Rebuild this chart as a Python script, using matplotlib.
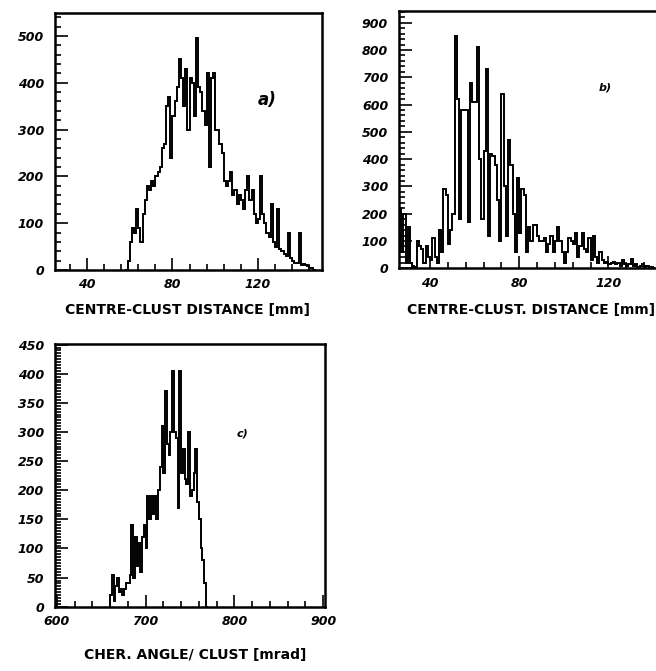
import numpy as np
import matplotlib
matplotlib.use("Agg")
import matplotlib.pyplot as plt
from matplotlib.ticker import MultipleLocator

# a) centre-cluster distance, 1 mm bins starting at 58 mm
a_start, a_width = 58, 1
a_counts = [0, 20, 60, 90, 80, 130, 90, 60, 120, 150,
            180, 170, 190, 180, 200, 210, 220, 260, 270, 350,
            370, 240, 330, 360, 390, 450, 410, 350, 430, 300,
            410, 400, 330, 495, 390, 380, 340, 310, 420, 220,
            410, 420, 300, 300, 270, 250, 190, 180, 190, 210,
            160, 170, 140, 160, 150, 130, 170, 200, 150, 170,
            120, 100, 110, 200, 120, 100, 80, 70, 140, 60,
            50, 130, 45, 40, 35, 30, 80, 25, 20, 15,
            15, 80, 10, 12, 10, 8, 5, 5, 0]

# b) centre-cluster distance, 1 mm bins starting at 26 mm
b_start, b_width = 26, 1
b_counts = [220, 60, 200, 20, 150, 20, 10, 5, 100, 80,
            70, 20, 80, 40, 30, 110, 40, 20, 140, 60,
            290, 270, 90, 140, 200, 850, 620, 180, 580, 580,
            580, 170, 680, 610, 610, 810, 400, 180, 430, 730,
            120, 420, 410, 380, 250, 100, 640, 300, 120, 470,
            380, 200, 60, 330, 130, 290, 270, 60, 150, 100,
            160, 160, 120, 100, 100, 110, 60, 90, 120, 60,
            100, 150, 100, 60, 20, 60, 110, 100, 90, 130,
            40, 80, 130, 70, 60, 110, 30, 120, 40, 20,
            60, 30, 20, 25, 15, 20, 25, 15, 20, 10,
            30, 15, 10, 15, 35, 10, 15, 5, 10, 15,
            5, 10, 5, 5, 0]

# c) Cherenkov angle per cluster, 2 mrad bins starting at 660 mrad
c_start, c_width = 660, 2
c_counts = [20, 55, 10, 35, 50, 25, 30, 20, 30, 40,
            40, 55, 140, 50, 120, 70, 110, 60, 120, 140,
            100, 190, 150, 190, 160, 190, 150, 200, 240, 310,
            230, 370, 280, 260, 300, 405, 300, 290, 170, 405,
            230, 270, 220, 210, 300, 190, 200, 230, 270, 180,
            150, 100, 80, 40, 0]

a_xlabel = "CENTRE-CLUST DISTANCE [mm]"
b_xlabel = "CENTRE-CLUST. DISTANCE [mm]"
c_xlabel = "CHER. ANGLE/ CLUST [mrad]"

# heavy slanted numbers on all the axes
plt.rcParams["font.family"] = "DejaVu Sans"
plt.rcParams["font.weight"] = "bold"
plt.rcParams["font.style"] = "italic"
plt.rcParams["xtick.labelsize"] = 9
plt.rcParams["ytick.labelsize"] = 9


def draw_hist(ax, start, width, counts, xlim, ylim, xticks, xmin, ymaj, ymin):
    counts = np.asarray(counts, dtype=float)
    edges = start + width * np.arange(len(counts) + 1)
    ax.stairs(counts, edges, color="black", linewidth=1.4)
    ax.set_xlim(*xlim)
    ax.set_ylim(*ylim)
    ax.set_xticks(xticks)
    ax.xaxis.set_minor_locator(MultipleLocator(xmin))
    ax.yaxis.set_major_locator(MultipleLocator(ymaj))
    ax.yaxis.set_minor_locator(MultipleLocator(ymin))
    ax.tick_params(which="both", direction="in", width=1.2, top=False, right=False)
    ax.tick_params(which="major", length=9, pad=6)
    ax.tick_params(axis="y", which="major", pad=8)
    ax.tick_params(which="minor", length=4)
    for sp in ax.spines.values():
        sp.set_linewidth(1.8)


fig = plt.figure(figsize=(6.56, 6.71), dpi=100)

ax_a = fig.add_axes([0.0838, 0.5976, 0.4071, 0.3830])
draw_hist(ax_a, a_start, a_width, a_counts, (25, 150), (0, 549), [40, 80, 120], 8, 100, 20)

ax_b = fig.add_axes([0.6087, 0.6001, 0.3976, 0.3840])
draw_hist(ax_b, b_start, b_width, b_counts, (26.2, 143.2), (0, 944), [40, 80, 120], 8, 100, 20)

ax_c = fig.add_axes([0.0838, 0.0958, 0.4116, 0.3915])
draw_hist(ax_c, c_start, c_width, c_counts, (598, 902), (0, 451), [600, 700, 800, 900], 20, 50, 5)

# panel tags
fig.text(267 / 656, 1 - 100 / 671, "a)", fontsize=12, ha="center", va="center")
fig.text(605 / 656, 1 - 87 / 671, "b)", fontsize=8, ha="center", va="center")
fig.text(242 / 656, 1 - 433 / 671, "c)", fontsize=8, ha="center", va="center")

# axis titles under each panel
fig.text(188 / 656, 1 - 310 / 671, a_xlabel, fontsize=10, style="normal",
         ha="center", va="center")
fig.text(531 / 656, 1 - 310 / 671, b_xlabel, fontsize=10, style="normal",
         ha="center", va="center")
fig.text(195 / 656, 1 - 655 / 671, c_xlabel, fontsize=10, style="normal",
         ha="center", va="center")

fig.savefig("out.png", dpi=100)
